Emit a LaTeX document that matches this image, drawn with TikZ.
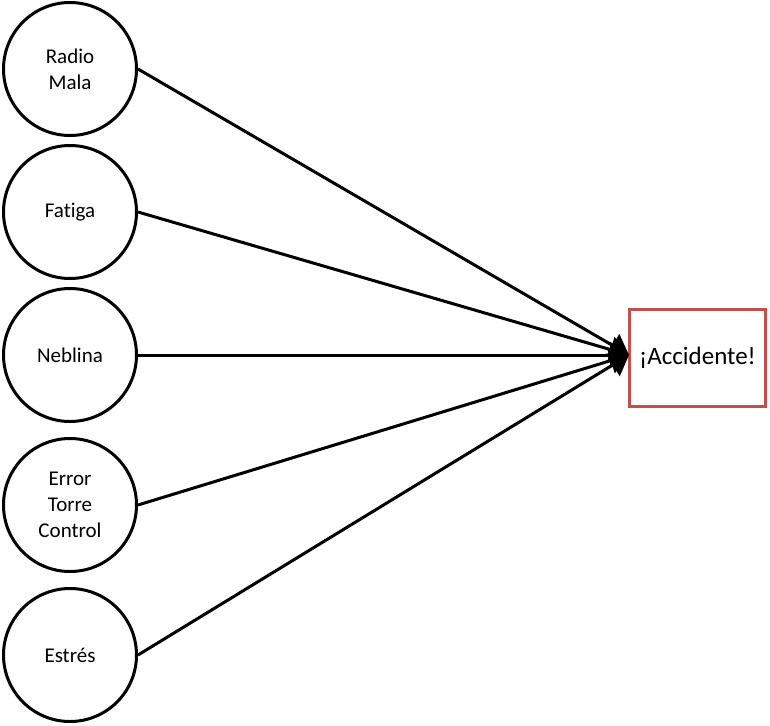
\documentclass[tikz,border=0pt]{standalone}
\usepackage{fontspec}
\setmainfont{Carlito}[Ligatures=NoCommon]
\usetikzlibrary{arrows.meta}
\definecolor{boxred}{HTML}{C0504D}
\begin{document}
\begin{tikzpicture}[x=1pt,y=-1pt,
  cause/.style={draw=black, line width=3pt, circle, minimum size=133pt, inner sep=0pt,
    align=center, font=\fontsize{21}{26}\selectfont},
  effect/.style={draw=boxred, line width=2.2pt, rectangle, minimum width=136pt, minimum height=97pt,
    inner sep=0pt, font=\fontsize{25}{30}\selectfont},
  link/.style={line width=3pt, -{Triangle[length=19pt,width=26pt]}}]
\useasboundingbox (0,0) rectangle (770,725);
\node[cause] (c1) at (70,69) {Radio\\Mala};
\node[cause] (c2) at (70,212) {Fatiga};
\node[cause] (c3) at (70,355) {Neblina};
\node[cause] (c4) at (70,505) {Error\\Torre\\Control};
\node[cause] (c5) at (70,655) {Estrés};
\node[effect] (acc) at (697.5,358) {¡Accidente!};
\coordinate (tip) at (629,355);
\foreach \c in {c1,c2,c3,c4,c5}
  \draw[link] (\c.east) -- (tip);
\end{tikzpicture}
\end{document}
